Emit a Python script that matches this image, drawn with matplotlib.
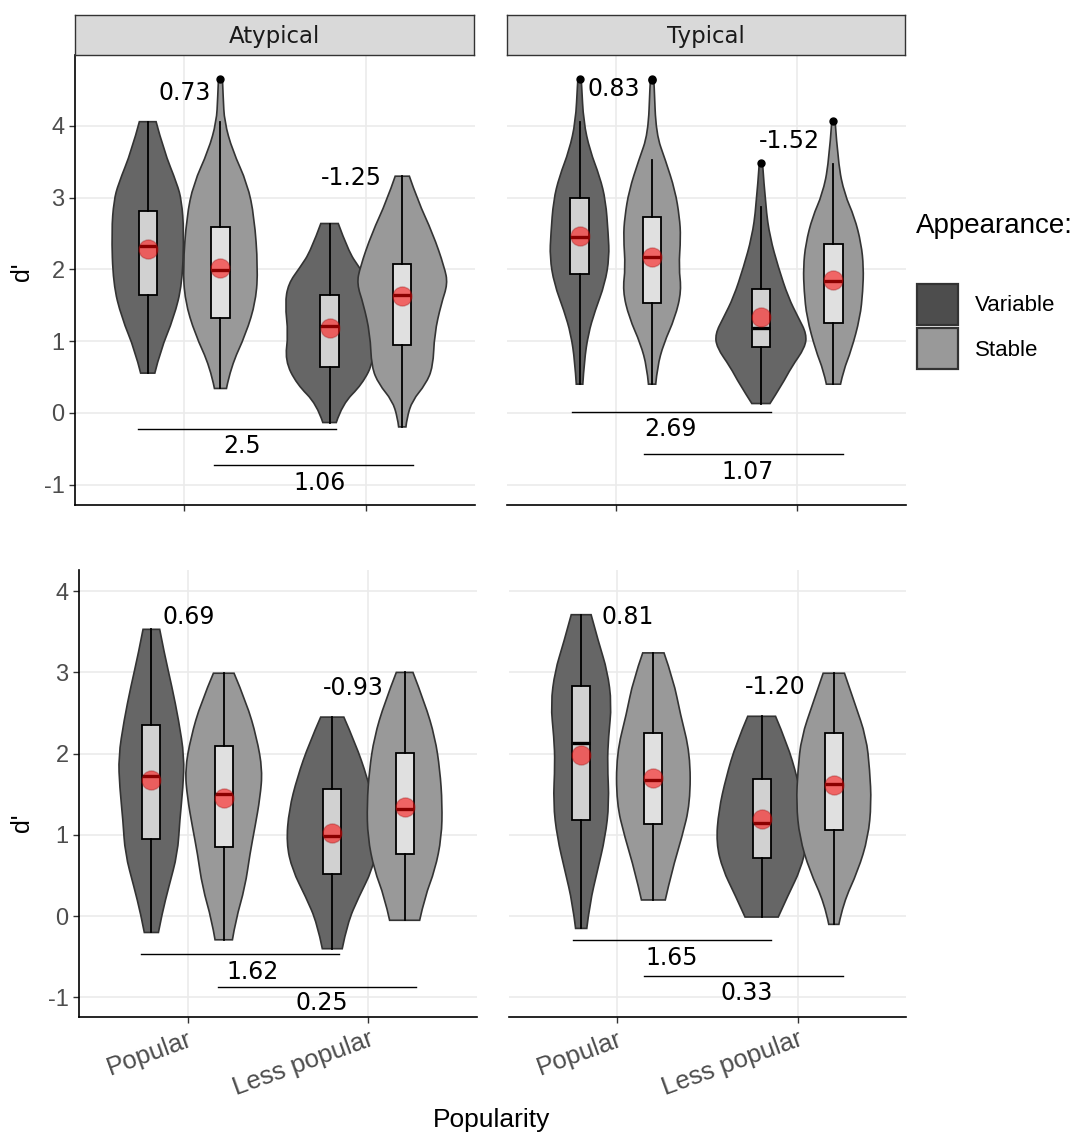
import numpy as np
import matplotlib
matplotlib.use('Agg')
import matplotlib.pyplot as plt
from matplotlib.patches import Rectangle, PathPatch
from matplotlib.path import Path

plt.rcParams['axes.unicode_minus'] = False

# ---- data ----
facets = ['Atypical', 'Typical', 'Atypical', 'Typical']
popularity = ['Popular', 'Less popular']
appearance = ['Variable', 'Stable']

# violin outlines, 16 groups: panel (TL, TR, BL, BR) x (Pop-Var, Pop-Stab, Less-Var, Less-Stab)
# y = d' level, w = half width in category units
violin_y = [
    [4.06, 3.66, 3.19, 2.96, 2.54, 1.80, 1.33, 0.87, 0.554],
    [4.65, 4.40, 4.06, 3.66, 3.19, 2.73, 2.03, 1.56, 1.10, 0.64, 0.34],
    [2.64, 2.26, 2.03, 1.80, 1.52, 1.10, 0.73, 0.40, 0.12, -0.135],
    [3.30, 2.96, 2.50, 2.03, 1.80, 1.52, 1.10, 0.64, 0.40, 0.17, -0.065, -0.196],
    [4.66, 4.59, 4.06, 3.66, 3.29, 2.96, 2.50, 2.17, 1.80, 1.42, 1.10, 0.72, 0.40],
    [4.66, 4.59, 3.89, 3.52, 3.10, 2.73, 2.45, 2.03, 1.70, 1.33, 0.96, 0.64, 0.40],
    [3.48, 2.87, 2.45, 2.03, 1.61, 1.33, 1.10, 0.91, 0.64, 0.40, 0.13],
    [4.07, 3.47, 3.05, 2.73, 2.36, 2.03, 1.70, 1.33, 0.87, 0.59, 0.40],
    [3.53, 3.23, 2.82, 2.41, 1.96, 1.59, 1.18, 0.77, 0.36, 0.03, -0.20],
    [2.99, 2.62, 2.20, 1.80, 1.46, 1.10, 0.77, 0.36, -0.05, -0.29],
    [2.45, 2.12, 1.71, 1.31, 0.90, 0.57, 0.24, -0.09, -0.40],
    [3.00, 2.62, 2.20, 1.80, 1.38, 0.97, 0.57, 0.24, -0.05],
    [3.71, 3.35, 3.02, 2.61, 2.20, 1.88, 1.39, 0.97, 0.56, 0.16, -0.15],
    [3.24, 2.90, 2.49, 2.00, 1.39, 0.97, 0.56, 0.20],
    [2.46, 2.12, 1.71, 1.30, 0.90, 0.57, 0.28, -0.01],
    [2.99, 2.62, 2.20, 1.80, 1.39, 0.97, 0.56, 0.16, -0.10],
]
violin_w = [
    [0.046, 0.088, 0.162, 0.186, 0.199, 0.190, 0.144, 0.070, 0.039],
    [0.011, 0.015, 0.022, 0.066, 0.149, 0.186, 0.206, 0.195, 0.140, 0.057, 0.033],
    [0.048, 0.103, 0.162, 0.227, 0.245, 0.227, 0.245, 0.180, 0.070, 0.037],
    [0.039, 0.085, 0.168, 0.232, 0.250, 0.214, 0.177, 0.169, 0.129, 0.055, 0.026, 0.020],
    [0.009, 0.011, 0.022, 0.057, 0.112, 0.144, 0.158, 0.164, 0.140, 0.085, 0.048, 0.026, 0.018],
    [0.009, 0.011, 0.022, 0.074, 0.127, 0.151, 0.158, 0.147, 0.162, 0.127, 0.063, 0.029, 0.020],
    [0.009, 0.026, 0.050, 0.096, 0.151, 0.206, 0.252, 0.243, 0.169, 0.118, 0.050],
    [0.009, 0.026, 0.061, 0.116, 0.153, 0.166, 0.162, 0.147, 0.098, 0.055, 0.039],
    [0.046, 0.072, 0.114, 0.151, 0.182, 0.175, 0.157, 0.145, 0.096, 0.059, 0.039],
    [0.057, 0.127, 0.182, 0.214, 0.201, 0.173, 0.145, 0.118, 0.066, 0.048],
    [0.064, 0.129, 0.193, 0.239, 0.254, 0.221, 0.147, 0.083, 0.055],
    [0.046, 0.112, 0.168, 0.195, 0.208, 0.204, 0.168, 0.112, 0.083],
    [0.055, 0.099, 0.145, 0.169, 0.151, 0.145, 0.155, 0.133, 0.090, 0.048, 0.031],
    [0.059, 0.112, 0.149, 0.204, 0.204, 0.158, 0.103, 0.066],
    [0.077, 0.142, 0.197, 0.238, 0.252, 0.215, 0.151, 0.092],
    [0.059, 0.116, 0.180, 0.199, 0.208, 0.190, 0.134, 0.052, 0.028],
]

q1 = [1.64, 1.32, 0.64, 0.95, 1.94, 1.53, 0.92, 1.25,
      0.95, 0.85, 0.525, 0.76, 1.18, 1.13, 0.72, 1.06]
median = [2.33, 1.99, 1.215, 1.65, 2.45, 2.17, 1.19, 1.84,
          1.73, 1.50, 0.99, 1.32, 2.13, 1.68, 1.15, 1.63]
q3 = [2.82, 2.59, 1.65, 2.08, 3.00, 2.73, 1.73, 2.36,
      2.35, 2.09, 1.56, 2.01, 2.83, 2.25, 1.69, 2.25]
whisk_lo = [0.554, 0.34, -0.135, -0.196, 0.40, 0.40, 0.13, 0.40,
            -0.20, -0.29, -0.40, -0.05, -0.15, 0.20, -0.01, -0.10]
whisk_hi = [4.06, 4.05, 2.64, 3.30, 4.06, 3.52, 2.87, 3.47,
            3.53, 2.99, 2.45, 3.00, 3.71, 3.24, 2.46, 2.99]
means = [2.28, 2.02, 1.19, 1.63, 2.46, 2.17, 1.33, 1.85,
         1.67, 1.45, 1.02, 1.35, 1.98, 1.70, 1.20, 1.61]
outliers = [[], [4.65], [], [], [4.66], [4.64, 4.66], [3.48], [4.07],
            [], [], [], [], [], [], [], []]

# effect sizes written in each panel: (label, x, y)
top_labels = [
    [('0.73', 1.005, 4.46), ('-1.25', 1.918, 3.27)],
    [('0.83', 0.99, 4.52), ('-1.52', 1.955, 3.79)],
    [('0.69', 1.004, 3.68), ('-0.93', 1.916, 2.81)],
    [('0.81', 1.055, 3.68), ('-1.20', 1.874, 2.82)],
]
bracket_lines = [
    [(0.745, 1.838, -0.22), (1.165, 2.259, -0.73)],
    [(0.76, 1.854, 0.005), (1.157, 2.254, -0.57)],
    [(0.743, 1.836, -0.47), (1.167, 2.261, -0.87)],
    [(0.756, 1.85, -0.295), (1.15, 2.25, -0.73)],
]
bracket_labels = [
    [('2.5', 1.318, -0.46), ('1.06', 1.746, -0.98)],
    [('2.69', 1.302, -0.23), ('1.07', 1.727, -0.83)],
    [('1.62', 1.36, -0.685), ('0.25', 1.742, -1.07)],
    [('1.65', 1.30, -0.51), ('0.33', 1.717, -0.94)],
]

fill_cols = {'Variable': '#666666', 'Stable': '#999999'}
key_cols = {'Variable': '#4d4d4d', 'Stable': '#999999'}


def side_path(pts):
    # quadratic b-spline style path through the outline points (read points act as controls)
    verts = [pts[0]]
    codes = [Path.LINETO]
    n = len(pts)
    if n < 3:
        verts += pts[1:]
        codes += [Path.LINETO] * (n - 1)
        return verts, codes
    for i in range(1, n - 2):
        mid = ((pts[i][0] + pts[i + 1][0]) / 2, (pts[i][1] + pts[i + 1][1]) / 2)
        verts += [pts[i], mid]
        codes += [Path.CURVE3, Path.CURVE3]
    verts += [pts[n - 2], pts[n - 1]]
    codes += [Path.CURVE3, Path.CURVE3]
    return verts, codes


def violin_patch(c, yy, ww, **kw):
    left = [(c - w, y) for y, w in zip(yy, ww)]
    right = [(c + w, y) for y, w in zip(yy[::-1], ww[::-1])]
    v1, c1 = side_path(left)
    v2, c2 = side_path(right)
    c1[0] = Path.MOVETO
    verts = v1 + v2 + [left[0]]
    codes = c1 + c2 + [Path.CLOSEPOLY]
    return PathPatch(Path(verts, codes), **kw)


# ---- layout (pixels of the 1083x1136 figure) ----
W, H = 1083, 1136
panel_px = [(75, 55, 475, 505), (507, 55, 906, 505),
            (79, 570, 477, 1017), (509, 570, 906, 1017)]
ylims = [(-1.285, 4.99), (-1.285, 4.99), (-1.24, 4.26), (-1.24, 4.26)]

fig = plt.figure(figsize=(W / 100, H / 100), dpi=100)

for p in range(4):
    l, t, r, b = panel_px[p]
    ax = fig.add_axes([l / W, 1 - b / H, (r - l) / W, (b - t) / H])
    ax.set_xlim(0.4, 2.6)
    ax.set_ylim(*ylims[p])
    ax.set_axisbelow(True)
    ax.grid(True, color='#ebebeb', lw=1.2)
    for s in ['top', 'right']:
        ax.spines[s].set_visible(False)
    ax.spines['bottom'].set_linewidth(1.2)
    ax.spines['left'].set_linewidth(1.2)
    ax.set_xticks([1, 2])
    ax.set_yticks([-1, 0, 1, 2, 3, 4])
    ax.tick_params(color='#333333', length=4, width=1, labelcolor='#4d4d4d',
                   labelsize=17)
    for lab in ax.get_yticklabels() + ax.get_xticklabels():
        lab.set_family('Liberation Sans')

    if p % 2 == 1:
        ax.spines['left'].set_visible(False)
        ax.tick_params(axis='y', left=False, labelleft=False)
    if p < 2:
        ax.set_xticklabels([])
    else:
        ax.set_xticklabels(popularity, rotation=20, ha='right',
                           rotation_mode='anchor', family='Liberation Sans',
                           fontsize=18.5)

    for g in range(4):
        k = p * 4 + g
        app = appearance[g % 2]
        c = [1, 2][g // 2] + [-0.2, 0.2][g % 2]
        ax.add_patch(violin_patch(c, violin_y[k], violin_w[k],
                                  facecolor=fill_cols[app], edgecolor='#333333',
                                  lw=1.2, zorder=2))

    for g in range(4):
        k = p * 4 + g
        c = [1, 2][g // 2] + [-0.2, 0.2][g % 2]
        st = dict(med=median[k], q1=q1[k], q3=q3[k], whislo=whisk_lo[k],
                  whishi=whisk_hi[k], fliers=outliers[k])
        ax.bxp([st], positions=[c], widths=0.1, showcaps=False,
               patch_artist=True, manage_ticks=False, zorder=3,
               boxprops=dict(facecolor=(1, 1, 1, 0.7), edgecolor='black', lw=1.3),
               whiskerprops=dict(color='black', lw=1.3),
               medianprops=dict(color='black', lw=2.4, solid_capstyle='butt'),
               flierprops=dict(marker='o', markerfacecolor='black',
                               markeredgecolor='black', markersize=5))
        ax.scatter([c], [means[k]], s=190, color=(1, 0, 0, 0.55),
                   edgecolors=(0.6, 0.1, 0.1, 0.35), linewidths=1.0, zorder=4)

    for txt, x, y in top_labels[p] + bracket_labels[p]:
        ax.text(x, y, txt, ha='center', va='center', fontsize=17,
                family='DejaVu Sans', color='black', zorder=5)
    for x0, x1, y in bracket_lines[p]:
        ax.plot([x0, x1], [y, y], color='black', lw=1.0, zorder=5)

    if p < 2:
        sax = fig.add_axes([l / W, 1 - t / H, (r - l - 1) / W, 40 / H])
        sax.set_facecolor('#d9d9d9')
        sax.set_xticks([])
        sax.set_yticks([])
        for s in sax.spines.values():
            s.set_color('#333333')
            s.set_linewidth(1.0)
        sax.text(0.5, 0.47, facets[p], ha='center', va='center', fontsize=16.5,
                 family='DejaVu Sans', color='#1a1a1a', transform=sax.transAxes)

# axis titles
fig.text(22 / W, 1 - 272 / H, "d'", rotation=90, ha='center', va='center',
         fontsize=18, family='Liberation Sans')
fig.text(22 / W, 1 - 823 / H, "d'", rotation=90, ha='center', va='center',
         fontsize=18, family='Liberation Sans')
fig.text(492 / W, 1 - 1120 / H, 'Popularity', ha='center', va='center',
         fontsize=19, family='Liberation Sans')

# legend
fig.text(916 / W, 1 - 226 / H, 'Appearance:', ha='left', va='center',
         fontsize=20, family='Liberation Sans')
for i, app in enumerate(appearance):
    top = 284 + i * 44
    fig.patches.append(Rectangle((917 / W, 1 - (top + 41) / H), 41 / W, 41 / H,
                                 transform=fig.transFigure,
                                 facecolor=key_cols[app], edgecolor='#333333',
                                 lw=1.6))
    fig.text(975 / W, 1 - (top + 22) / H, app, ha='left', va='center',
             fontsize=16, family='Liberation Sans')

fig.savefig('out.png', dpi=100)
